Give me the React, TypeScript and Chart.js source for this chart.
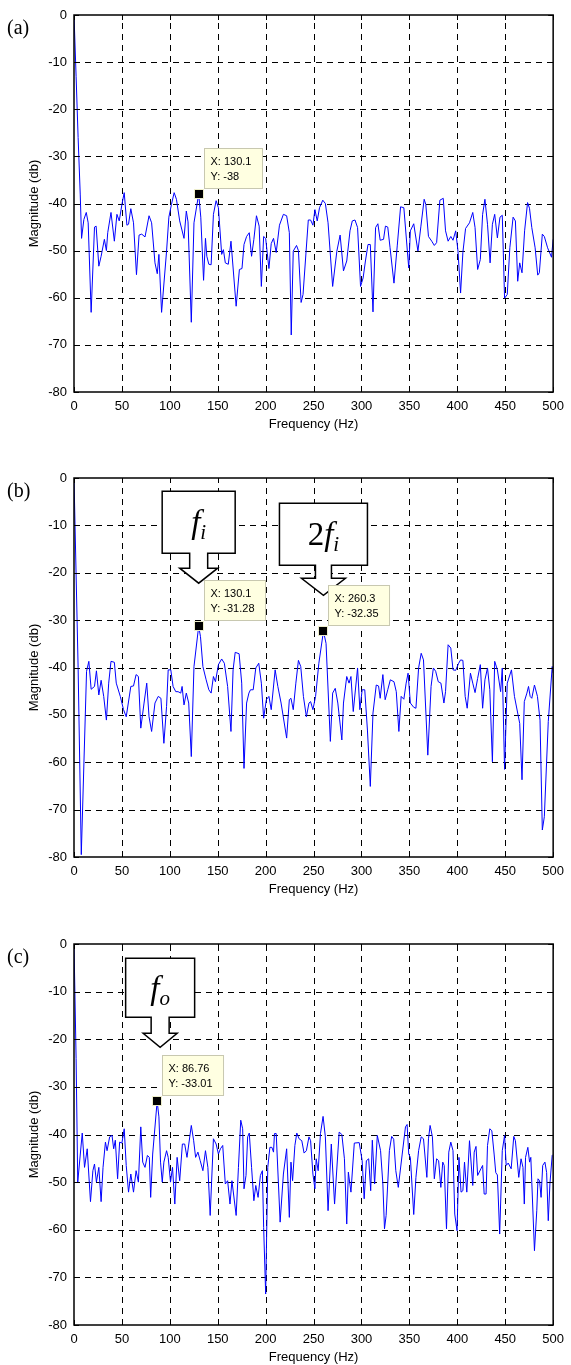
import React, { useEffect, useRef } from "react";
import { Chart, registerables } from "chart.js";

Chart.register(...registerables);

// ---------------- data ----------------
const freqA = [0, 2.2, 4.3, 6.5, 7.9, 10.3, 12.8, 14.8, 17.9, 21.4, 23.1, 25.9, 28.3, 31.7, 33.8, 35.2, 38.6, 42.1, 44.8, 47.2, 50.0, 52.4, 55.2, 56.9, 59.3, 62.1, 65.2, 67.9, 70.7, 74.1, 78.3, 81.0, 84.5, 86.9, 88.6, 91.4, 96.6, 99.0, 101.7, 104.5, 106.9, 110.3, 114.8, 117.2, 119.0, 122.4, 125.2, 130.1, 132.3, 135.2, 137.2, 138.6, 140.7, 143.1, 145.5, 148.3, 150.7, 154.1, 155.9, 157.9, 161.0, 163.8, 169.2, 172.6, 175.3, 177.4, 180.1, 182.9, 185.3, 187.7, 190.4, 193.2, 195.5, 197.9, 200.0, 203.4, 205.8, 208.2, 211.0, 214.4, 218.5, 221.9, 224.7, 226.7, 228.8, 232.2, 234.2, 237.0, 239.0, 244.5, 246.9, 249.3, 251.4, 253.8, 256.2, 259.6, 262.3, 265.1, 269.9, 274.3, 277.7, 281.2, 284.6, 288.0, 290.4, 293.2, 295.9, 299.0, 301.7, 304.1, 306.8, 309.2, 312.0, 314.7, 317.1, 319.5, 323.0, 325.0, 327.4, 329.8, 333.9, 337.3, 340.8, 344.2, 349.3, 351.0, 354.5, 358.9, 362.0, 365.4, 367.1, 369.9, 373.3, 376.0, 378.4, 381.8, 385.3, 387.7, 390.4, 393.2, 395.5, 398.3, 400.7, 403.4, 405.8, 408.6, 412.7, 416.1, 418.5, 421.2, 424.0, 426.4, 428.8, 431.5, 434.2, 436.6, 439.0, 441.8, 444.5, 446.9, 449.3, 452.1, 454.8, 458.2, 460.6, 463.0, 465.1, 467.5, 470.2, 473.3, 475.3, 477.7, 481.2, 483.9, 485.6, 488.7, 490.8, 494.2, 498.3, 500];
const magA = [0, -13, -26, -38, -47.4, -43.4, -41.9, -44.1, -63.1, -45.0, -44.8, -53.3, -51.2, -47.6, -50.0, -46.2, -41.9, -48.0, -42.3, -43.7, -40.2, -37.7, -44.6, -44.4, -41.1, -44.1, -55.1, -46.7, -46.5, -47.1, -42.6, -44.1, -52.6, -54.9, -50.8, -63.1, -50.1, -42.9, -40.2, -37.7, -39.1, -43.7, -47.4, -41.6, -43.9, -65.2, -44.1, -38.0, -42.9, -56.3, -47.4, -51.2, -52.9, -53.0, -42.3, -39.4, -40.9, -50.8, -49.8, -52.6, -52.9, -48.0, -61.8, -54.0, -53.8, -48.7, -47.0, -46.2, -51.2, -47.6, -42.6, -44.8, -57.6, -47.0, -47.4, -53.8, -48.5, -47.4, -50.4, -44.6, -42.3, -42.6, -46.2, -67.9, -50.1, -48.9, -50.0, -61.0, -59.3, -43.5, -43.5, -44.6, -41.3, -43.7, -40.9, -39.3, -40.0, -44.1, -57.6, -50.1, -46.7, -54.3, -52.2, -45.8, -43.7, -43.5, -45.1, -57.6, -55.8, -52.2, -48.7, -48.7, -63.0, -45.1, -44.3, -47.8, -47.6, -44.8, -45.0, -49.4, -56.9, -49.0, -40.7, -40.9, -53.7, -45.8, -44.3, -50.1, -44.8, -39.1, -40.2, -47.0, -48.0, -48.9, -48.3, -39.3, -38.9, -45.8, -48.0, -47.0, -47.8, -45.8, -50.1, -59.0, -50.4, -45.3, -44.1, -41.9, -45.1, -54.0, -51.9, -42.3, -39.1, -44.4, -52.6, -44.4, -42.3, -47.3, -42.9, -42.5, -60.1, -59.3, -49.4, -42.9, -43.7, -56.5, -52.6, -54.7, -45.8, -39.8, -41.0, -45.1, -49.4, -55.2, -54.7, -46.5, -47.0, -49.4, -51.4, -47.6];

const freqB = [0, 4.3, 7.6, 13.1, 15.5, 17.9, 21.4, 23.4, 25.9, 28.3, 31.0, 33.8, 36.2, 38.6, 42.1, 44.1, 48.3, 51.7, 54.5, 59.3, 62.1, 64.8, 67.2, 69.7, 73.1, 75.9, 78.3, 81.0, 84.5, 87.9, 90.7, 93.8, 96.6, 98.3, 101.0, 103.4, 106.2, 108.6, 111.4, 112.8, 114.8, 117.2, 119.7, 122.4, 125.2, 130.1, 132.0, 134.5, 137.9, 140.7, 143.1, 145.5, 147.6, 150.7, 154.1, 156.9, 160.3, 163.8, 166.0, 168.2, 172.3, 175.0, 177.4, 180.1, 182.5, 184.2, 187.0, 189.7, 192.8, 195.5, 197.9, 200.7, 203.4, 205.8, 209.9, 212.7, 216.1, 221.9, 224.7, 226.4, 228.8, 231.5, 234.2, 236.6, 239.4, 242.5, 245.2, 246.9, 249.3, 252.1, 255.5, 260.3, 263.0, 267.5, 269.9, 272.6, 275.3, 279.5, 281.2, 284.6, 287.0, 289.0, 291.4, 295.9, 298.3, 300.7, 303.4, 306.2, 309.2, 312.0, 315.4, 317.8, 319.5, 322.3, 324.7, 327.4, 330.1, 333.9, 336.3, 339.0, 341.4, 344.2, 346.6, 348.6, 351.0, 354.5, 356.8, 359.6, 362.3, 364.7, 369.2, 372.6, 375.0, 377.4, 380.1, 382.9, 386.0, 387.7, 390.4, 393.2, 395.5, 398.3, 401.4, 403.4, 405.8, 408.2, 410.3, 413.7, 416.1, 418.5, 421.2, 424.0, 426.4, 428.8, 431.5, 433.9, 436.6, 439.0, 441.8, 445.2, 446.9, 449.3, 452.1, 456.5, 459.6, 465.1, 467.5, 469.9, 472.6, 474.3, 476.0, 477.7, 480.5, 483.6, 486.3, 488.7, 490.8, 494.9, 499.0, 500];
const magB = [0, -40, -79.5, -40.8, -38.7, -44.6, -44.0, -40.7, -45.8, -42.7, -46.1, -51.1, -43.3, -38.7, -38.9, -43.3, -46.1, -48.9, -50.4, -44.0, -43.9, -41.5, -41.9, -52.8, -47.5, -43.3, -50.4, -53.5, -47.5, -46.1, -46.5, -56.0, -48.2, -40.5, -40.5, -44.0, -45.1, -45.1, -45.4, -44.0, -47.9, -45.4, -47.5, -58.8, -39.8, -31.28, -33.5, -39.8, -42.6, -44.7, -45.4, -41.9, -43.0, -39.4, -38.2, -39.1, -44.0, -53.5, -40.5, -36.8, -37.1, -43.3, -61.3, -47.5, -45.4, -44.7, -44.7, -40.1, -39.1, -43.3, -50.7, -46.8, -46.1, -48.9, -40.5, -44.0, -47.5, -54.9, -46.8, -46.5, -48.9, -43.3, -38.5, -39.8, -46.1, -50.4, -47.5, -47.2, -48.9, -46.1, -39.1, -32.35, -34.9, -55.6, -45.4, -44.4, -47.5, -55.3, -47.5, -41.9, -43.3, -41.9, -49.3, -40.1, -48.9, -44.7, -44.7, -53.2, -65.1, -49.6, -43.7, -43.9, -46.5, -41.5, -46.8, -44.7, -42.6, -43.0, -45.1, -53.5, -46.1, -46.7, -43.3, -41.2, -47.5, -48.4, -48.6, -40.1, -37.0, -38.4, -58.5, -44.0, -40.1, -40.8, -43.0, -43.3, -47.5, -45.1, -35.2, -35.9, -40.5, -40.6, -39.1, -38.4, -38.5, -46.1, -48.6, -41.2, -43.3, -45.3, -42.3, -39.4, -48.6, -42.6, -40.1, -44.7, -59.9, -38.7, -40.5, -45.1, -40.1, -61.5, -43.3, -40.5, -46.1, -51.8, -63.7, -47.2, -45.4, -44.0, -46.1, -46.5, -43.7, -46.1, -51.1, -74.3, -71.5, -51.4, -39.8, -41.2];

const freqC = [0, 2.2, 3.9, 8.6, 11.0, 13.8, 17.2, 19.7, 21.4, 23.4, 25.9, 28.3, 30.3, 32.8, 34.5, 37.2, 39.7, 41.4, 43.1, 45.5, 47.6, 50.0, 52.4, 54.5, 56.9, 59.3, 62.1, 64.8, 67.2, 69.7, 71.7, 74.1, 76.6, 78.6, 80.0, 82.1, 86.76, 88.6, 90.3, 92.1, 93.8, 96.6, 98.3, 100.7, 102.8, 105.2, 107.6, 110.3, 113.1, 115.5, 117.9, 122.4, 124.8, 126.9, 129.3, 131.7, 134.5, 137.2, 139.7, 142.1, 145.5, 148.3, 150.7, 152.8, 155.2, 157.9, 160.3, 162.8, 164.8, 169.2, 171.6, 174.0, 176.0, 177.4, 179.5, 181.2, 182.9, 185.3, 187.7, 189.7, 192.1, 194.5, 196.6, 197.9, 200.0, 202.2, 204.4, 206.5, 208.2, 209.2, 211.0, 215.1, 218.5, 221.9, 224.7, 226.4, 228.1, 230.5, 232.5, 234.9, 237.7, 240.1, 242.5, 245.2, 246.9, 249.3, 251.4, 252.7, 254.8, 257.2, 259.9, 262.3, 265.1, 268.5, 271.9, 276.7, 279.5, 282.2, 284.6, 286.3, 289.0, 292.5, 297.6, 300.7, 302.8, 305.1, 307.5, 309.6, 311.3, 313.7, 316.5, 319.9, 322.3, 324.0, 325.7, 329.1, 331.5, 333.6, 335.8, 338.4, 342.5, 345.9, 347.6, 349.3, 351.0, 354.5, 356.8, 359.6, 362.3, 364.7, 368.2, 369.9, 371.6, 374.0, 376.0, 378.4, 380.5, 382.8, 384.8, 386.3, 388.7, 391.1, 393.2, 395.5, 397.3, 399.7, 401.7, 403.9, 405.8, 407.5, 409.9, 412.7, 416.1, 417.6, 419.5, 421.2, 424.6, 426.4, 428.0, 430.0, 431.5, 433.9, 436.0, 438.4, 440.1, 441.8, 444.2, 446.9, 449.3, 451.0, 453.1, 456.2, 458.9, 460.6, 464.1, 466.5, 468.5, 469.9, 471.2, 473.6, 475.4, 476.7, 480.5, 482.9, 484.2, 485.8, 487.4, 489.1, 491.4, 493.2, 494.9, 496.6, 499.0, 500];
const magC = [0, -24, -50, -39.7, -46.9, -43.0, -54.1, -47.6, -46.2, -50.0, -46.9, -54.1, -46.9, -41.6, -43.4, -40.5, -40.2, -43.0, -41.2, -49.3, -41.6, -41.8, -38.8, -46.5, -52.1, -48.3, -52.1, -47.6, -50.0, -38.4, -45.8, -46.9, -44.4, -44.8, -53.2, -44.1, -33.01, -36.3, -45.8, -50.0, -45.8, -43.4, -44.8, -50.0, -46.9, -54.6, -44.8, -49.7, -42.0, -42.0, -44.8, -38.1, -41.2, -44.8, -43.7, -45.5, -47.6, -43.4, -46.9, -57.0, -40.9, -42.0, -44.1, -43.0, -42.3, -50.4, -49.7, -54.6, -49.7, -57.0, -46.9, -37.0, -38.8, -51.4, -48.6, -40.5, -39.7, -46.9, -53.9, -50.7, -53.2, -48.6, -47.6, -59.5, -73.5, -46.9, -42.7, -42.7, -43.7, -39.8, -39.8, -58.4, -48.3, -43.0, -57.4, -45.8, -49.7, -42.3, -39.7, -40.9, -41.3, -43.9, -43.4, -40.5, -41.3, -48.3, -51.4, -45.1, -47.6, -39.8, -36.2, -40.5, -56.0, -42.0, -54.6, -39.5, -40.0, -45.1, -58.8, -47.9, -52.1, -41.8, -41.7, -45.5, -53.5, -45.5, -45.1, -51.8, -41.2, -50.4, -40.2, -43.4, -50.4, -59.8, -57.0, -43.4, -40.4, -41.0, -47.6, -51.1, -44.1, -38.4, -37.9, -44.1, -44.8, -56.8, -49.0, -43.4, -40.5, -40.9, -49.0, -40.9, -38.1, -40.5, -49.3, -45.1, -45.5, -51.1, -45.8, -46.5, -59.8, -43.7, -41.6, -43.4, -56.7, -60.2, -44.8, -52.1, -51.8, -45.8, -52.1, -41.3, -50.7, -43.7, -42.5, -48.6, -47.2, -46.5, -52.5, -52.5, -42.3, -38.8, -39.2, -44.1, -48.0, -48.5, -60.9, -43.4, -40.2, -46.5, -46.0, -47.2, -40.4, -41.3, -49.0, -45.1, -46.9, -54.6, -44.8, -42.7, -45.8, -44.8, -64.4, -56.0, -49.3, -49.7, -53.2, -46.5, -45.8, -48.0, -58.1, -50.4, -44.4, -44.2];

const xTickValues = [0, 50, 100, 150, 200, 250, 300, 350, 400, 450, 500];
const yTickValues = [0, -10, -20, -30, -40, -50, -60, -70, -80];

const tipXA = [130.1];
const tipYA = [-38];
const tipXB = [130.1, 260.3];
const tipYB = [-31.28, -32.35];
const tipXC = [86.76];
const tipYC = [-33.01];

const xTitle = "Frequency (Hz)";
const yTitle = "Magnitude (db)";

// ---------------- styling / layout ----------------
const SANS = '"Liberation Sans", Arial, Helvetica, sans-serif';
const SERIF = '"Liberation Serif", "Times New Roman", serif';
const TICK_FONT = 13;
const TIP_FONT = 11;

const calloutsB = [
  { tip: 0, parts: [{ t: "f", italic: true }, { t: "i", italic: true, sub: true }],
    g: { dx: 0, tipDy: 43, headLen: 15, stemLen: 15, boxW: 73, boxH: 62, stemHalf: 9, wingHalf: 19 } },
  { tip: 1, parts: [{ t: "2" }, { t: "f", italic: true }, { t: "i", italic: true, sub: true }],
    g: { dx: 0, tipDy: 36, headLen: 17, stemLen: 13, boxW: 88, boxH: 62, stemHalf: 8, wingHalf: 22 } },
];
const calloutsC = [
  { tip: 0, parts: [{ t: "f", italic: true }, { t: "o", italic: true, sub: true }],
    g: { dx: 3, tipDy: 54, headLen: 14, stemLen: 16, boxW: 69, boxH: 59, stemHalf: 9, wingHalf: 17 } },
];

const panels = [
  { label: "(a)", top: 0, plotH: 377, freq: freqA, mag: magA, tipX: tipXA, tipY: tipYA, callouts: [] as any[] },
  { label: "(b)", top: 463, plotH: 379, freq: freqB, mag: magB, tipX: tipXB, tipY: tipYB, callouts: calloutsB },
  { label: "(c)", top: 929, plotH: 381, freq: freqC, mag: magC, tipX: tipXC, tipY: tipYC, callouts: calloutsC },
];

const PAD_TOP = 15;
const X_AXIS_H = 40;
const Y_AXIS_W = 74;
const PAD_RIGHT = 15;

function makeDecor(cfg: any) {
  return {
    id: "decor",
    beforeDatasetsDraw(chart: any) {
      const { ctx, chartArea: a, scales } = chart;
      const xs = scales.x, ys = scales.y;
      ctx.save();
      ctx.strokeStyle = "#000";
      ctx.lineWidth = 1;
      ctx.setLineDash([6, 5]);
      for (const v of xTickValues) {
        if (v <= 0 || v >= 500) continue;
        const px = Math.round(xs.getPixelForValue(v)) + 0.5;
        ctx.beginPath();
        ctx.moveTo(px, a.bottom);
        ctx.lineTo(px, a.top);
        ctx.stroke();
      }
      for (const v of yTickValues) {
        if (v >= 0 || v <= -80) continue;
        const py = Math.round(ys.getPixelForValue(v)) + 0.5;
        ctx.beginPath();
        ctx.moveTo(a.left, py);
        ctx.lineTo(a.right, py);
        ctx.stroke();
      }
      ctx.restore();
    },
    afterDraw(chart: any) {
      const { ctx, chartArea: a, scales } = chart;
      const xs = scales.x, ys = scales.y;
      ctx.save();
      ctx.setLineDash([]);
      ctx.strokeStyle = "#000";
      ctx.lineWidth = 1;
      // inward tick marks on all four sides
      for (const v of xTickValues) {
        const px = Math.round(xs.getPixelForValue(v)) + 0.5;
        ctx.beginPath();
        ctx.moveTo(px, a.bottom); ctx.lineTo(px, a.bottom - 5);
        ctx.moveTo(px, a.top); ctx.lineTo(px, a.top + 5);
        ctx.stroke();
      }
      for (const v of yTickValues) {
        const py = Math.round(ys.getPixelForValue(v)) + 0.5;
        ctx.beginPath();
        ctx.moveTo(a.left, py); ctx.lineTo(a.left + 5, py);
        ctx.moveTo(a.right, py); ctx.lineTo(a.right - 5, py);
        ctx.stroke();
      }
      // box
      ctx.lineWidth = 1.5;
      ctx.strokeRect(a.left, a.top, a.right - a.left, a.bottom - a.top);

      // callouts (arrow boxes)
      for (const c of cfg.callouts) {
        const g = c.g;
        const mx = xs.getPixelForValue(cfg.tipX[c.tip]) + g.dx;
        const my = ys.getPixelForValue(cfg.tipY[c.tip]);
        const tx = mx, ty = my - g.tipDy;
        const wingY = ty - g.headLen;
        const bb = wingY - g.stemLen;
        const bt = bb - g.boxH;
        const bl = tx - g.boxW / 2, br = tx + g.boxW / 2;
        ctx.beginPath();
        ctx.moveTo(bl, bt);
        ctx.lineTo(br, bt);
        ctx.lineTo(br, bb);
        ctx.lineTo(tx + g.stemHalf, bb);
        ctx.lineTo(tx + g.stemHalf, wingY);
        ctx.lineTo(tx + g.wingHalf, wingY);
        ctx.lineTo(tx, ty);
        ctx.lineTo(tx - g.wingHalf, wingY);
        ctx.lineTo(tx - g.stemHalf, wingY);
        ctx.lineTo(tx - g.stemHalf, bb);
        ctx.lineTo(bl, bb);
        ctx.closePath();
        ctx.fillStyle = "#fff";
        ctx.fill();
        ctx.lineWidth = 1.5;
        ctx.lineJoin = "miter";
        ctx.strokeStyle = "#000";
        ctx.stroke();
        const fontFor = (p: any) => `${p.italic ? "italic " : ""}${p.sub ? 21 : 33}px ${SERIF}`;
        const widths = c.parts.map((p: any) => { ctx.font = fontFor(p); return ctx.measureText(p.t).width; });
        const total = widths.reduce((s: number, w: number) => s + w, 0);
        let x0 = tx - total / 2;
        const base = (bt + bb) / 2 + 11;
        ctx.fillStyle = "#000";
        ctx.textAlign = "left";
        ctx.textBaseline = "alphabetic";
        c.parts.forEach((p: any, i: number) => {
          ctx.font = fontFor(p);
          ctx.fillText(p.t, x0, base + (p.sub ? 6 : 0));
          x0 += widths[i];
        });
      }

      // data tips
      for (let i = 0; i < cfg.tipX.length; i++) {
        const mx = xs.getPixelForValue(cfg.tipX[i]);
        const my = ys.getPixelForValue(cfg.tipY[i]);
        const lines = ["X: " + cfg.tipX[i], "Y: " + cfg.tipY[i]];
        ctx.font = `${TIP_FONT}px ${SANS}`;
        const w = Math.max(...lines.map((l) => ctx.measureText(l).width)) + 17;
        const h = 40;
        const bx = Math.round(mx + 5) + 0.5;
        const by = Math.round(my - 6 - h) + 0.5;
        ctx.fillStyle = "#ffffe1";
        ctx.fillRect(bx, by, w, h);
        ctx.strokeStyle = "#c8c8b0";
        ctx.lineWidth = 1;
        ctx.strokeRect(bx, by, w, h);
        ctx.fillStyle = "#000";
        ctx.textAlign = "left";
        ctx.textBaseline = "middle";
        ctx.fillText(lines[0], bx + 6, by + 13);
        ctx.fillText(lines[1], bx + 6, by + 28);
        // marker
        ctx.fillStyle = "#000";
        ctx.fillRect(Math.round(mx) - 4, Math.round(my) - 4, 8, 8);
        ctx.strokeStyle = "#eeeecc";
        ctx.strokeRect(Math.round(mx) - 4.5, Math.round(my) - 4.5, 9, 9);
      }

      // panel label
      ctx.font = `20px ${SERIF}`;
      ctx.fillStyle = "#000";
      ctx.textAlign = "left";
      ctx.textBaseline = "alphabetic";
      ctx.fillText(cfg.label, 7, a.top + 19);
      ctx.restore();
    },
  };
}

function Panel({ cfg }: { cfg: any }) {
  const ref = useRef<HTMLCanvasElement | null>(null);
  const h = PAD_TOP + cfg.plotH + X_AXIS_H;
  useEffect(() => {
    if (!ref.current) return;
    const font = { family: SANS, size: TICK_FONT };
    const chart = new Chart(ref.current, {
      type: "line",
      data: {
        datasets: [
          {
            data: cfg.freq.map((f: number, i: number) => ({ x: f, y: cfg.mag[i] })),
            borderColor: "#0000ff",
            borderWidth: 1,
            pointRadius: 0,
            fill: false,
            tension: 0,
          },
        ],
      },
      options: {
        animation: false,
        responsive: false,
        maintainAspectRatio: false,
        devicePixelRatio: 1,
        events: [],
        layout: { padding: { top: PAD_TOP, right: PAD_RIGHT, left: 0, bottom: 0 } },
        plugins: { legend: { display: false }, tooltip: { enabled: false } },
        scales: {
          x: {
            type: "linear",
            min: 0,
            max: 500,
            afterBuildTicks: (s: any) => { s.ticks = xTickValues.map((v) => ({ value: v })); },
            ticks: { font, color: "#000", padding: 7, maxRotation: 0, autoSkip: false },
            grid: { display: false, drawTicks: false },
            border: { display: false },
            title: { display: true, text: xTitle, font, color: "#000", padding: { top: 0, bottom: 0 } },
            afterFit: (s: any) => { s.height = X_AXIS_H; },
          },
          y: {
            type: "linear",
            min: -80,
            max: 0,
            afterBuildTicks: (s: any) => { s.ticks = yTickValues.map((v) => ({ value: v })); },
            ticks: { font, color: "#000", padding: 7, autoSkip: false },
            grid: { display: false, drawTicks: false },
            border: { display: false },
            title: { display: true, text: yTitle, font, color: "#000", padding: { top: 27, bottom: 0 } },
            afterFit: (s: any) => { s.width = Y_AXIS_W; },
          },
        },
      },
      plugins: [makeDecor(cfg)],
    } as any);
    return () => chart.destroy();
  }, []);
  return (
    <canvas
      ref={ref}
      width={571}
      height={h}
      style={{ position: "absolute", left: 0, top: cfg.top, width: 571, height: h, display: "block" }}
    />
  );
}

export default function App() {
  return (
    <div style={{ position: "absolute", left: 0, top: 0, width: 571, height: 1365, overflow: "hidden", background: "#fff" }}>
      {panels.map((p) => (
        <Panel key={p.label} cfg={p} />
      ))}
    </div>
  );
}
